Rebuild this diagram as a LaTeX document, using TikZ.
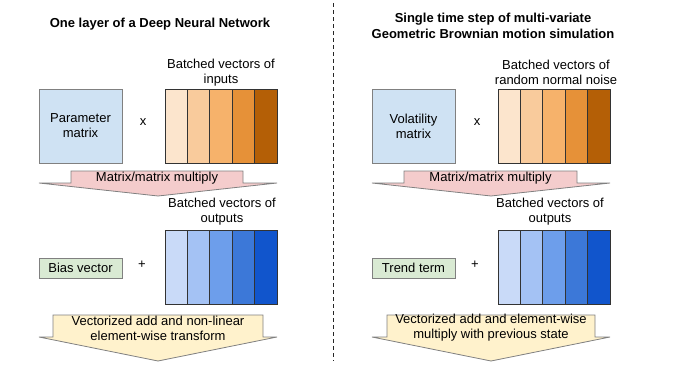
\documentclass[tikz,border=0pt]{standalone}
\usepackage{fontspec}
\setmainfont{Liberation Sans}
\usepackage{xcolor}
\usetikzlibrary{positioning}

\definecolor{mblue}{HTML}{CFE2F3}
\definecolor{mgreen}{HTML}{D9EAD3}
\definecolor{mpink}{HTML}{F4CCCC}
\definecolor{myellow}{HTML}{FFF2CC}
\definecolor{orA}{HTML}{FCE5CD}
\definecolor{orB}{HTML}{F9CB9C}
\definecolor{orC}{HTML}{F6B26B}
\definecolor{orD}{HTML}{E69138}
\definecolor{orE}{HTML}{B45F06}
\definecolor{blA}{HTML}{C9DAF8}
\definecolor{blB}{HTML}{A4C2F4}
\definecolor{blC}{HTML}{6D9EEB}
\definecolor{blD}{HTML}{3C78D8}
\definecolor{blE}{HTML}{1155CC}

\begin{document}
\begin{tikzpicture}[
    x=1pt, y=-1pt,
    font=\fontsize{13}{15}\selectfont,
    titletext/.style={font=\fontsize{13}{16}\selectfont\bfseries, align=center},
    lbltext/.style={align=center, inner sep=0pt},
    matbox/.style={draw=black!50, line width=0.8pt, fill=mblue,
        minimum width=83pt, minimum height=74pt, inner sep=2pt, align=center},
    vecbox/.style={draw=black!50, line width=0.8pt, fill=mgreen,
        minimum width=83pt, minimum height=20pt, inner sep=2pt},
    colbox/.style={draw=black!80, line width=0.8pt, fill=#1,
        minimum width=22.4pt, minimum height=74pt, inner sep=0pt},
    blockarrow/.style={draw=black!50, line width=0.8pt, fill=#1, line join=miter},
    optext/.style={inner sep=0pt},
]
\useasboundingbox (0,0) rectangle (677,378);

%% ========== DIVIDER ==========
\coordinate (divtop) at (333,3);
\coordinate (divbot) at (333,361);
\draw[black!85, line width=0.9pt, dash pattern=on 4pt off 3pt] (divtop) -- (divbot);

%% ========== LEFT: DEEP NEURAL NETWORK ==========
\node[titletext] (dnntitle) at (160,24) {One layer of a Deep Neural Network};

%% matrix times inputs
\node[matbox] (pmat) at (80.5,126) {Parameter\\matrix};
\node[optext] (dnntimes) at (143,122) {x};
\node[lbltext] (dnnin) at (221,72.5) {Batched vectors of\\inputs};
\node[colbox=orA] (dnnin1) at (176.2,126) {};
\node[colbox=orB] (dnnin2) at (198.6,126) {};
\node[colbox=orC] (dnnin3) at (221.0,126) {};
\node[colbox=orD] (dnnin4) at (243.4,126) {};
\node[colbox=orE] (dnnin5) at (265.8,126) {};

%% multiply arrow
\draw[blockarrow=mpink] (71,171) -- (243,171) -- (243,183) -- (277,183)
    -- (158,196) -- (39,183) -- (71,183) -- cycle;
\node[optext] (dnnmul) at (157,178) {Matrix/matrix multiply};

%% bias plus outputs
\node[vecbox] (bias) at (80.5,268) {Bias vector};
\node[optext] (dnnplus) at (142,265) {+};
\node[lbltext] (dnnout) at (222,211.5) {Batched vectors of\\outputs};
\node[colbox=blA] (dnnout1) at (176.2,267) {};
\node[colbox=blB] (dnnout2) at (198.6,267) {};
\node[colbox=blC] (dnnout3) at (221.0,267) {};
\node[colbox=blD] (dnnout4) at (243.4,267) {};
\node[colbox=blE] (dnnout5) at (265.8,267) {};

%% add arrow
\draw[blockarrow=myellow] (53,315) -- (263,315) -- (263,337) -- (277,337)
    -- (158,361) -- (39,337) -- (53,337) -- cycle;
\node[lbltext] (dnnadd) at (158,328) {Vectorized add and non-linear\\element-wise transform};

%% ========== RIGHT: GEOMETRIC BROWNIAN MOTION ==========
\node[titletext] (gbmtitle) at (493,26) {Single time step of multi-variate\\Geometric Brownian motion simulation};

%% matrix times noise
\node[matbox] (vmat) at (413.5,126) {Volatility\\matrix};
\node[optext] (gbmtimes) at (477,122) {x};
\node[lbltext] (gbmin) at (556,72.5) {Batched vectors of\\random normal noise};
\node[colbox=orA] (gbmin1) at (509.2,126) {};
\node[colbox=orB] (gbmin2) at (531.6,126) {};
\node[colbox=orC] (gbmin3) at (554.0,126) {};
\node[colbox=orD] (gbmin4) at (576.4,126) {};
\node[colbox=orE] (gbmin5) at (598.8,126) {};

%% multiply arrow
\draw[blockarrow=mpink] (404,171) -- (577,171) -- (577,183) -- (610,183)
    -- (491,196) -- (372,183) -- (404,183) -- cycle;
\node[optext] (gbmmul) at (490.5,178) {Matrix/matrix multiply};

%% trend plus outputs
\node[vecbox] (trend) at (413.5,268) {Trend term};
\node[optext] (gbmplus) at (475,265) {+};
\node[lbltext] (gbmout) at (550,211.5) {Batched vectors of\\outputs};
\node[colbox=blA] (gbmout1) at (509.2,267) {};
\node[colbox=blB] (gbmout2) at (531.6,267) {};
\node[colbox=blC] (gbmout3) at (554.0,267) {};
\node[colbox=blD] (gbmout4) at (576.4,267) {};
\node[colbox=blE] (gbmout5) at (598.8,267) {};

%% add arrow
\draw[blockarrow=myellow] (387,315) -- (595,315) -- (595,337) -- (610,337)
    -- (491,361) -- (372,337) -- (387,337) -- cycle;
\node[lbltext] (gbmadd) at (491,328) {Vectorized add and element-wise\\multiply with previous state};
\end{tikzpicture}
\end{document}
